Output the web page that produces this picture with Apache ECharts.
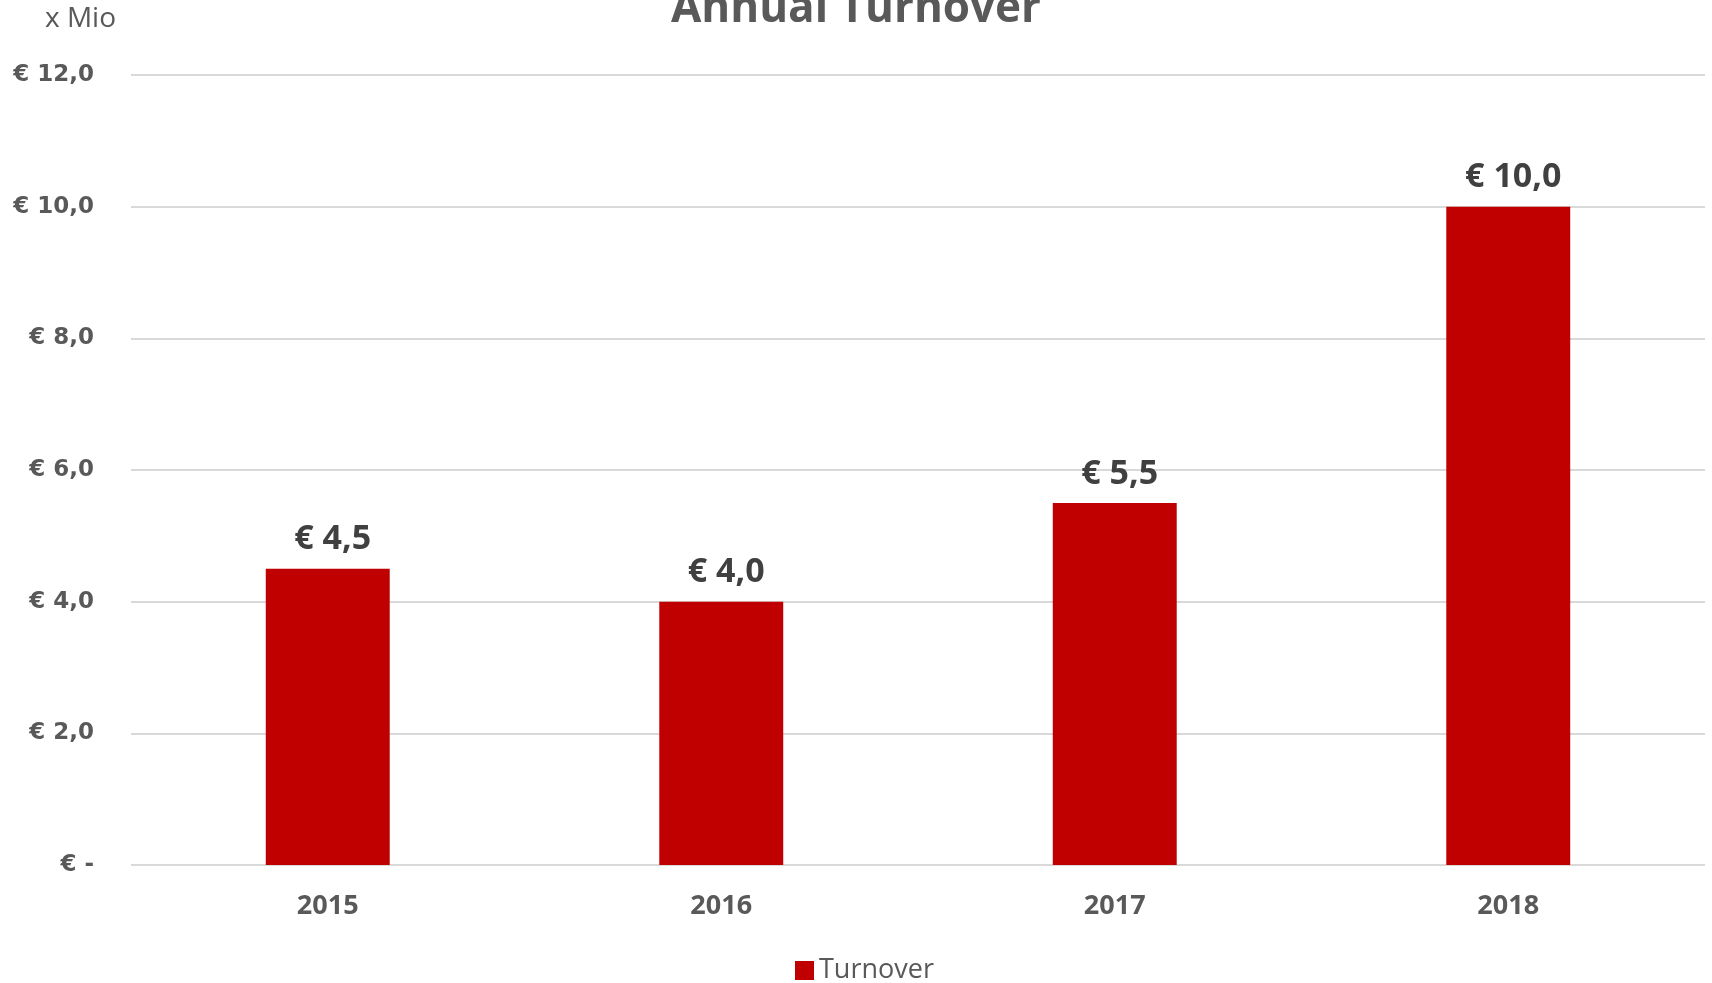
<!DOCTYPE html>
<html>
<head>
<meta charset="utf-8">
<script src="https://cdn.jsdelivr.net/npm/echarts@6/dist/echarts.min.js"></script>
<style>
  html, body { margin: 0; padding: 0; background: #fff; }
  #chart { width: 1712px; height: 983px; }
</style>
</head>
<body>
<div id="chart"></div>
<script>
var years = ['2015', '2016', '2017', '2018'];
var turnover = [4.5, 4.0, 5.5, 10.0];

function euro(v) {
    if (v === 0) return '€ -';
    return '€ ' + v.toFixed(1).replace('.', ',');
}

var myChart = echarts.init(document.getElementById('chart'));
var option = {
    animation: false,
    textStyle: { fontFamily: 'Open Sans' },
    title: [{
        text: 'Annual Turnover',
        left: 'center',
        top: -18,
        textStyle: { fontSize: 44, fontWeight: 'bold', color: '#595959', fontFamily: 'Open Sans' }
    }, {
        text: 'x Mio',
        left: 40,
        top: 0,
        textStyle: { fontSize: 28, fontWeight: 'normal', color: '#595959', fontFamily: 'Open Sans' }
    }],
    legend: {
        data: ['Turnover'],
        left: 790,
        top: 952,
        icon: 'rect',
        itemWidth: 19,
        itemHeight: 19,
        itemGap: 8,
        textStyle: { fontSize: 27, color: '#595959' }
    },
    grid: { left: 131, right: 7, top: 75, bottom: 118 },
    xAxis: {
        type: 'category',
        data: years,
        axisLine: { show: false },
        axisTick: { show: false },
        axisLabel: { fontSize: 27, fontWeight: 'bold', color: '#595959', margin: 28 }
    },
    yAxis: {
        type: 'value',
        min: 0,
        max: 12,
        interval: 2,
        axisLine: { show: false },
        axisTick: { show: false },
        splitLine: { lineStyle: { color: '#d9d9d9', width: 2 } },
        axisLabel: {
            fontSize: 23, fontWeight: 'bold', color: '#595959', margin: 37,
            fontFamily: 'DejaVu Sans',
            formatter: euro
        }
    },
    series: [{
        name: 'Turnover',
        type: 'bar',
        data: turnover,
        barWidth: '31.5%',
        itemStyle: { color: '#c00000' },
        label: {
            show: true,
            position: 'top',
            distance: 12,
            offset: [5, 0],
            fontSize: 34,
            fontWeight: 'bold',
            color: '#404040',
            formatter: function (p) { return euro(p.value); }
        }
    }]
};
myChart.setOption(option);
</script>
</body>
</html>
